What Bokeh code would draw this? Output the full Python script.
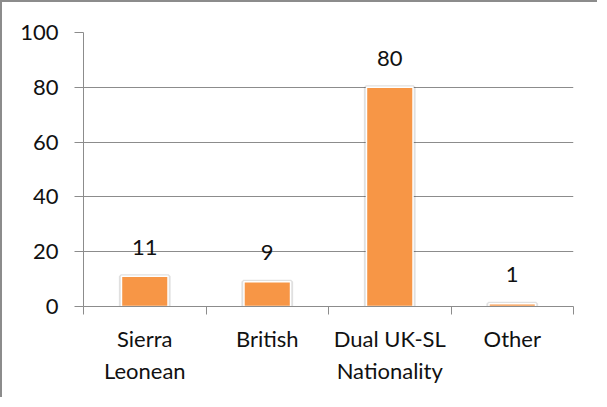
from bokeh.plotting import figure
from bokeh.models import FixedTicker, ColumnDataSource
from bokeh.core.properties import value
from bokeh.embed import file_html
from bokeh.resources import INLINE

categories = ["Sierra\nLeonean", "British", "Dual UK-SL\nNationality", "Other"]
values = [11, 9, 80, 1]
y_ticks = [0, 20, 40, 60, 80, 100]

FONT = "Lato"
GRID = "#8c8c8c"
BAR = "#F79646"
TXT = "#111111"

xs = [i + 0.5 for i in range(len(categories))]
src = ColumnDataSource(dict(x=xs, top=values, label=[str(v) for v in values]))

p = figure(width=597, height=397, x_range=(0, len(categories)), y_range=(0, 100),
           output_backend="svg", toolbar_location=None,
           min_border_left=81, min_border_right=26, min_border_top=30, min_border_bottom=93)
p.styles = {"border-top": f"2px solid {GRID}", "border-left": f"2px solid {GRID}"}
p.outline_line_color = None
p.background_fill_color = "white"
p.border_fill_color = "white"

# shadow + bars
p.vbar(x="x", top="top", width=0.39, bottom=0, source=src, fill_color=None,
       line_color="#000000", line_alpha=0.12, line_width=4)
p.vbar(x="x", top="top", width=0.38, bottom=0, source=src, fill_color=BAR,
       line_color="white", line_width=1.5)

p.text(x="x", y="top", text="label", source=src, text_align="center",
       text_baseline="alphabetic", y_offset=-29, text_font=value(FONT),
       text_font_size="22px", text_color=TXT)

# y axis
p.yaxis.ticker = FixedTicker(ticks=y_ticks)
p.yaxis.minor_tick_line_color = None
p.yaxis.major_tick_out = 9
p.yaxis.major_tick_in = 0
p.yaxis.major_label_standoff = 16
p.yaxis.axis_line_color = GRID
p.yaxis.major_tick_line_color = GRID
p.yaxis.major_label_text_font = FONT
p.yaxis.major_label_text_font_size = "22px"
p.yaxis.major_label_text_color = TXT

# x axis
p.xaxis.ticker = FixedTicker(ticks=xs, minor_ticks=list(range(len(categories) + 1)))
p.xaxis.major_label_overrides = {x: c for x, c in zip(xs, categories)}
p.xaxis.major_tick_out = 0
p.xaxis.major_tick_in = 0
p.xaxis.minor_tick_out = 8
p.xaxis.minor_tick_in = 0
p.xaxis.minor_tick_line_color = GRID
p.xaxis.major_label_standoff = 10
p.xaxis.axis_line_color = GRID
p.xaxis.major_label_text_font = FONT
p.xaxis.major_label_text_font_size = "22px"
p.xaxis.major_label_text_color = TXT

p.xgrid.grid_line_color = None
p.ygrid.ticker = FixedTicker(ticks=y_ticks)
p.ygrid.grid_line_color = GRID

open("out.html", "w").write(file_html(p, INLINE))
